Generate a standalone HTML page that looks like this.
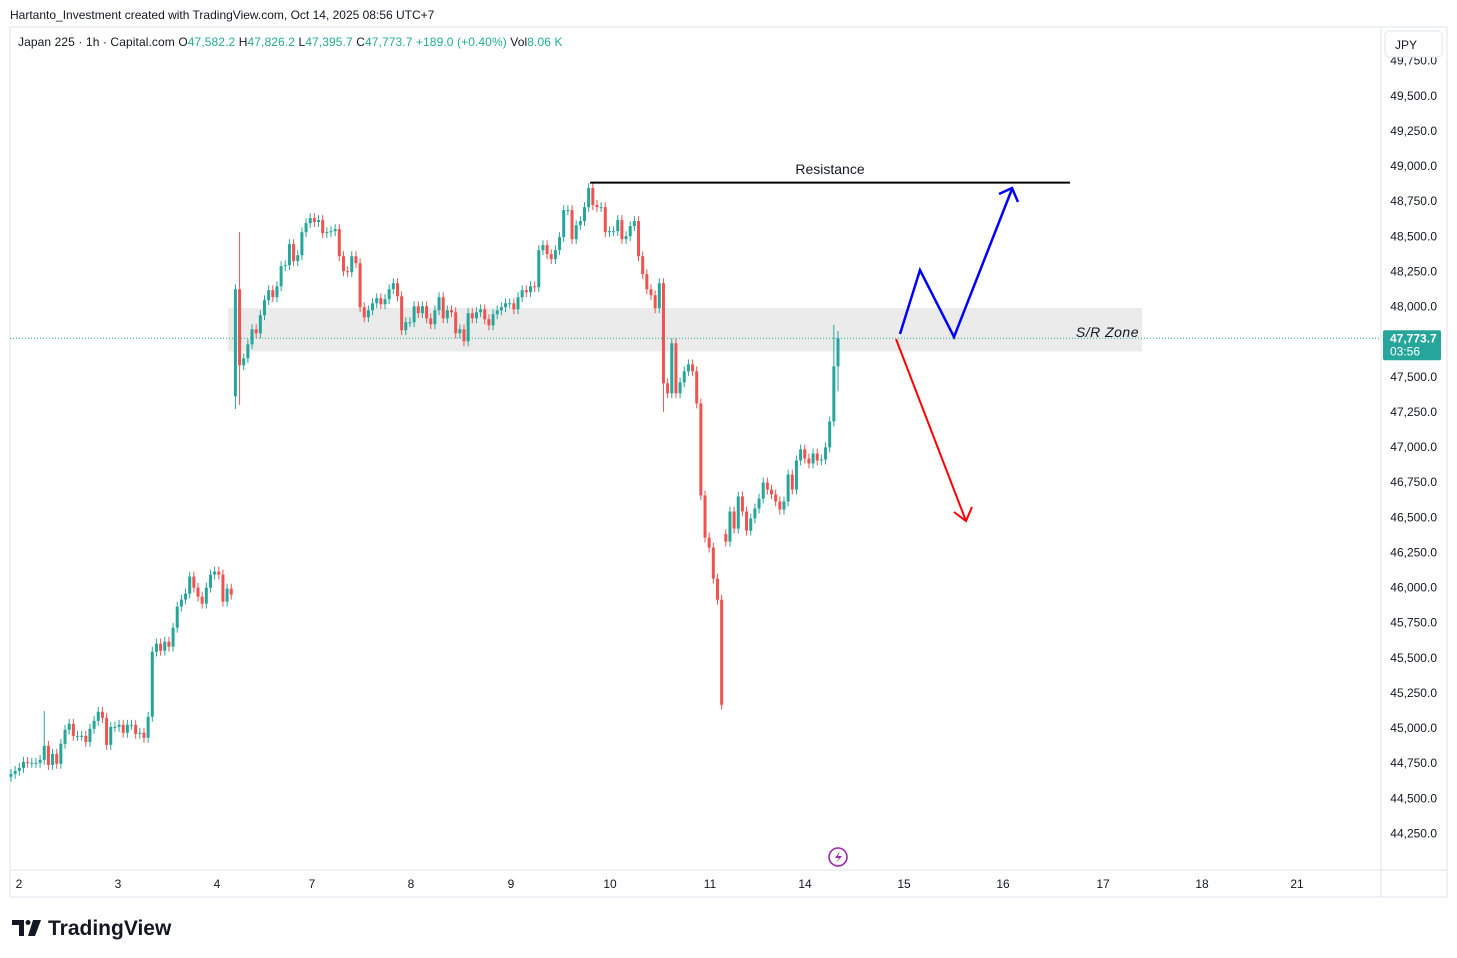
<!DOCTYPE html>
<html><head><meta charset="utf-8">
<style>
html,body{margin:0;padding:0;background:#fff;}
body{width:1457px;height:958px;position:relative;overflow:hidden;font-family:"Liberation Sans",sans-serif;color:#131722;}
svg{position:absolute;left:0;top:0;}
</style></head>
<body>
<svg id="chart" width="1457" height="958" font-family="Liberation Sans, sans-serif"></svg>
<script>
// ---- data ----
const closes = [44673,44695,44716,44759,44752,44752,44752,44773,44873,44737,44816,44745,44887,44987,45030,44944,44944,44944,44901,44994,45051,45115,45072,44880,45008,45008,45023,44966,45023,45023,44958,44966,44930,45080,45543,45600,45550,45614,45579,45714,45864,45914,45956,46078,45999,45935,45885,45999,46092,46113,46092,45899,45992,45949,
48123,47581,47631,47731,47838,47809,47938,48045,48116,48066,48144,48287,48294,48444,48323,48365,48529,48593,48629,48601,48615,48522,48529,48536,48551,48358,48251,48244,48358,48308,47995,47923,47973,48023,48059,48016,48052,48123,48166,48073,47831,47888,47888,48002,47952,48002,47916,47874,47973,48066,47916,47973,47959,47809,47838,47752,47952,47916,47959,47980,47909,47866,47945,47973,47995,48023,48023,47980,48066,48116,48102,48144,48137,48401,48437,48372,48337,48401,48494,48686,48686,48479,48579,48608,48707,48843,48722,48707,48707,48529,48536,48536,48615,48479,48501,48572,48608,48358,48230,48123,48080,47988,48166,
47453,47382,47738,47382,47460,47539,47588,47539,47310,46655,46355,46284,46063,45913,45165,46327,46541,46419,46648,46541,46405,46491,46562,46633,46747,46697,46662,46612,46555,46612,46804,46697,46904,46983,46918,46883,46954,46904,46911,46997,47182,47574,47774];
const gapIdx = [54, 172];
const gapOpens = [47360, 46380];
const extraHighIdx = [55, 8, 199, 198];
const extraHighVal = [48529, 45120, 47826, 47870];
const extraLowIdx = [54, 55, 171, 157, 199];
const extraLowVal = [47270, 47300, 45130, 47250, 47396];
const priceTicks = [49750,49500,49250,49000,48750,48500,48250,48000,47750,47500,47250,47000,46750,46500,46250,46000,45750,45500,45250,45000,44750,44500,44250];
const timeLabels = ["2","3","4","7","8","9","10","11","14","15","16","17","18","21"];
const timeLabelX = [19,118,217,312,411,511,610,710,805,904,1003,1103,1202,1297];
const lastPrice = 47773.7;
const srTop = 47990, srBottom = 47680, resistance = 48882;

// ---- axes ----
const Y0 = 166, P0 = 49000, K = 0.1405;
function y(p){return Y0 + (P0 - p)*K;}
function x(i){return 11 + i*(827/(closes.length-1));}
const NS="http://www.w3.org/2000/svg";
const svg=document.getElementById('chart');
function el(tag,attrs,parent){const e=document.createElementNS(NS,tag);for(const k in attrs)e.setAttribute(k,attrs[k]);(parent||svg).appendChild(e);return e;}
function txt(s,attrs,parent){const e=el('text',attrs,parent);e.textContent=s;return e;}

let e;
e=el('rect',{x:10,y:27,width:1437,height:870,fill:'none',stroke:'#e0e3eb','stroke-width':1});


e=el('line',{x1:1381,y1:27,x2:1381,y2:897,stroke:'#e0e3eb'});


e=el('line',{x1:10,y1:870,x2:1447,y2:870,stroke:'#e0e3eb'});



e=txt('Hartanto_Investment created with TradingView.com, Oct 14, 2025 08:56 UTC+7',{x:10,y:19,'font-size':12,fill:'#131722'});


const lg=el('text',{x:18,y:46,'font-size':12,fill:'#131722','letter-spacing':'0.1'});


lg.setAttribute('xml:space','preserve');
[['Japan 225 · 1h · Capital.com  ','#131722'],['O','#131722'],['47,582.2  ','#22ab94'],['H','#131722'],['47,826.2  ','#22ab94'],['L','#131722'],['47,395.7  ','#22ab94'],['C','#131722'],['47,773.7  ','#22ab94'],['+189.0 (+0.40%)  ','#22ab94'],['Vol','#131722'],['8.06 K','#22ab94']].forEach(p=>{const t=el('tspan',{fill:p[1]},lg);t.textContent=p[0];});

e=el('rect',{x:228,y:y(srTop),width:914,height:y(srBottom)-y(srTop),fill:'#ebebeb'});


e=txt('S/R Zone',{x:1139,y:337,'font-size':14,'font-style':'italic','text-anchor':'end',fill:'#131722','letter-spacing':'0.5'});



const up='#26a69a', dn='#ef5350';
let prev=closes[0];
closes.forEach((c,i)=>{
  const gI=gapIdx.indexOf(i);
  const o = i===0 ? c-20 : (gI>=0 ? gapOpens[gI] : prev);
  let hi=Math.max(o,c)+35, lo=Math.min(o,c)-35;
  const hI=extraHighIdx.indexOf(i); if(hI>=0) hi=Math.max(hi,extraHighVal[hI]);
  const lI=extraLowIdx.indexOf(i); if(lI>=0) lo=Math.min(lo,extraLowVal[lI]);
  const col = c>=o?up:dn;
  const cx=x(i);
  const g=el('g',{});
  
  
  el('line',{x1:cx,y1:y(hi),x2:cx,y2:y(lo),stroke:col,'stroke-width':1},g);
  const top=y(Math.max(o,c)), h=Math.max(1,y(Math.min(o,c))-top);
  el('rect',{x:cx-1.5,y:top,width:3,height:h,fill:col},g);
  prev=c;
});

e=el('line',{x1:10,y1:y(lastPrice),x2:1381,y2:y(lastPrice),stroke:'#26a69a','stroke-width':1,'stroke-dasharray':'1 2'});



e=el('line',{x1:590,y1:y(resistance),x2:1070,y2:y(resistance),stroke:'#000','stroke-width':2});


e=txt('Resistance',{x:830,y:174,'font-size':14,'text-anchor':'middle',fill:'#131722'});



e=el('polyline',{points:'900,334 920,270 954,337 1012,189',fill:'none',stroke:'#0000ff','stroke-width':2.5});


e=el('polyline',{points:'999,194 1012,188 1018,202',fill:'none',stroke:'#0000ff','stroke-width':2.5});


e=el('line',{x1:896,y1:339,x2:966,y2:521,stroke:'#ff0000','stroke-width':2});


e=el('polyline',{points:'954,512 966,521 972,507',fill:'none',stroke:'#ff0000','stroke-width':2});



const axG=el('g',{});


priceTicks.forEach(p=>{
  e=txt(p.toLocaleString('en-US',{minimumFractionDigits:1}),{x:1437,y:y(p)+4,'font-size':12,'text-anchor':'end',fill:'#131722'},axG);
  
  
});
e=el('rect',{x:1385,y:31,width:57,height:26,rx:4,fill:'#fff',stroke:'#e0e3eb'});


e=txt('JPY',{x:1395,y:49,'font-size':12,fill:'#131722'});


e=el('rect',{x:1383,y:y(lastPrice)-8,width:58,height:30,rx:2,fill:'#26a69a'});


e=txt('47,773.7',{x:1390,y:y(lastPrice)+4,'font-size':12,'font-weight':'bold',fill:'#fff'});


e=txt('03:56',{x:1390,y:y(lastPrice)+17,'font-size':12,fill:'#fff'});



timeLabels.forEach((t,i)=>{
  e=txt(t,{x:timeLabelX[i],y:888,'font-size':12,'text-anchor':'middle',fill:'#131722'});
  
  
});

const li=el('g',{});


el('circle',{cx:838,cy:857,r:9,fill:'#fff',stroke:'#9c27b0','stroke-width':1.6},li);
el('path',{d:'M840,851 L835,858 L839,858 L836,863 L842,856 L838,856 Z',fill:'#9c27b0'},li);

const lo=el('g',{});


el('path',{d:'M12,920 L24,920 L24,936 L19,936 L19,925 L12,925 Z',fill:'#131722'},lo);
el('circle',{cx:28,cy:922.5,r:2.5,fill:'#131722'},lo);
el('path',{d:'M33,920 L41,920 L35,936 L28,936 Z',fill:'#131722'},lo);
txt('TradingView',{x:48,y:935,'font-size':21,'font-weight':'bold',fill:'#131722'},lo);
</script>
</body></html>
